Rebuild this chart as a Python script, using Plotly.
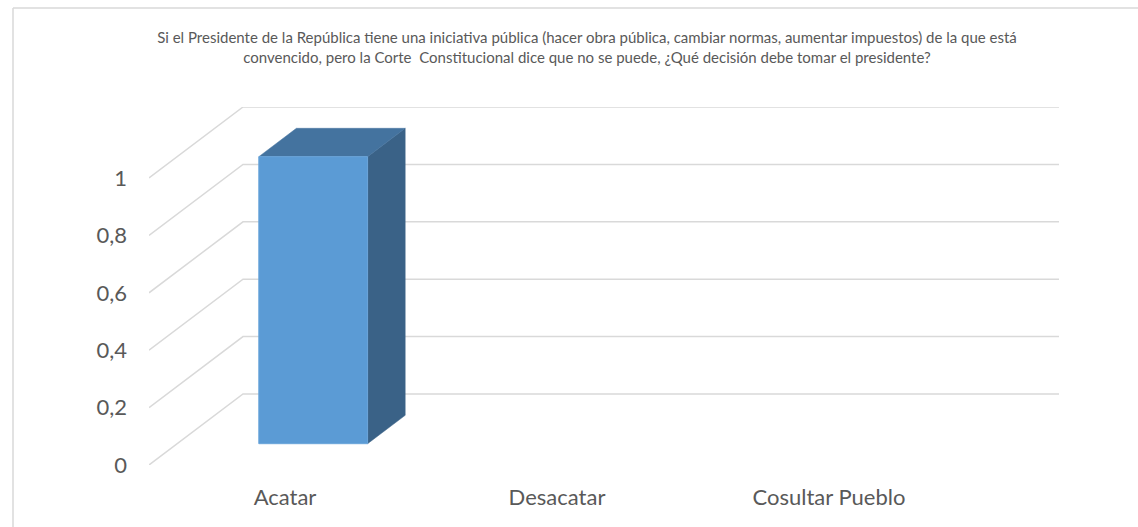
import plotly.graph_objects as go

# ---- data ----
categories = ["Acatar", "Desacatar", "Cosultar Pueblo"]
values = [1, 0, 0]
y_ticks = [0, 0.2, 0.4, 0.6, 0.8, 1]
y_tick_labels = ["0", "0,2", "0,4", "0,6", "0,8", "1"]
title_text = ("Si el Presidente de la República tiene una iniciativa pública (hacer obra pública, cambiar normas, "
              "aumentar impuestos) de la que está<br>convencido, pero la Corte  Constitucional dice que no se puede, "
              "¿Qué decisión debe tomar el presidente?")

# ---- layout / projection parameters (style) ----
W, H = 1138, 527
L, R, T, B = 149, 79, 107, 62
DX, DY = 0.3456, 0.2474          # depth offset of the 3D box in data units
BAR_W = 0.4                      # bar width (category units)
D0, D1 = 0.3, 0.7                # bar depth extent (fraction of total depth)
n = len(categories)
x_min, x_max = -0.5, n - 0.5 + DX
y_max = max(y_ticks) + DY

grid_col = "#d9d9d9"
front_col, top_col, side_col = "#5b9bd5", "#44739f", "#3a6287"
text_col = "#595959"
FONT = "Lato"

fig = go.Figure()

# gridlines: side wall and back wall
for v in y_ticks:
    fig.add_trace(go.Scatter(x=[x_min, x_min + DX, n - 0.5 + DX], y=[v, v + DY, v + DY],
                             mode="lines", line=dict(color=grid_col, width=1.5),
                             hoverinfo="skip", showlegend=False))

# bars as 3D boxes
for i, v in enumerate(values):
    if not v:
        continue
    xl = i - BAR_W / 2
    xr = i + BAR_W / 2
    fx0, fx1 = xl + D0 * DX, xr + D0 * DX
    fy0, fy1 = D0 * DY, v + D0 * DY
    bx1 = xr + D1 * DX
    by0, by1 = D1 * DY, v + D1 * DY
    bx0 = xl + D1 * DX
    # side
    fig.add_trace(go.Scatter(x=[fx1, bx1, bx1, fx1, fx1], y=[fy0, by0, by1, fy1, fy0],
                             mode="lines", fill="toself", fillcolor=side_col,
                             line=dict(color=side_col, width=0.5), hoverinfo="skip", showlegend=False))
    # top
    fig.add_trace(go.Scatter(x=[fx0, fx1, bx1, bx0, fx0], y=[fy1, fy1, by1, by1, fy1],
                             mode="lines", fill="toself", fillcolor=top_col,
                             line=dict(color=top_col, width=0.5), hoverinfo="skip", showlegend=False))
    # front
    fig.add_trace(go.Scatter(x=[fx0, fx1, fx1, fx0, fx0], y=[fy0, fy0, fy1, fy1, fy0],
                             mode="lines", fill="toself", fillcolor=front_col,
                             line=dict(color="#6aa5da", width=1), hoverinfo="skip", showlegend=False))

pw = W - L - R
ph = H - T - B
def px_x(p):
    return (p - L) / pw
def px_y(p):
    return (H - B - p) / ph

fig.update_layout(
    width=W, height=H,
    margin=dict(l=L, r=R, t=T, b=B, pad=0),
    paper_bgcolor="white", plot_bgcolor="white",
    showlegend=False,
    title=dict(text=title_text, x=587 / W, xref="container", xanchor="center",
               y=1 - 43 / H, yref="container", yanchor="middle",
               font=dict(family=FONT, size=15, color=text_col)),
    xaxis=dict(range=[x_min, x_max], tickmode="array", tickvals=list(range(n)), ticktext=categories,
               showgrid=False, zeroline=False, showline=False, ticks="",
               ticklabelstandoff=17, tickfont=dict(family=FONT, size=22, color=text_col),
               fixedrange=True),
    yaxis=dict(range=[0, y_max], tickmode="array", tickvals=y_ticks, ticktext=y_tick_labels,
               showgrid=False, zeroline=False, showline=False, ticks="",
               ticklabelstandoff=21, tickfont=dict(family=FONT, size=22, color=text_col),
               fixedrange=True),
    shapes=[
        dict(type="line", xref="paper", yref="paper", x0=px_x(13), x1=px_x(W + 5), y0=px_y(8), y1=px_y(8),
             line=dict(color=grid_col, width=1.5)),
        dict(type="line", xref="paper", yref="paper", x0=px_x(13), x1=px_x(13), y0=px_y(8), y1=px_y(H + 5),
             line=dict(color=grid_col, width=1.5)),
    ],
)

fig.write_html("out.html", config={"displayModeBar": False},
               post_script="document.body.style.margin='0';document.body.style.padding='0';"
                           "document.body.style.overflow='hidden';")
